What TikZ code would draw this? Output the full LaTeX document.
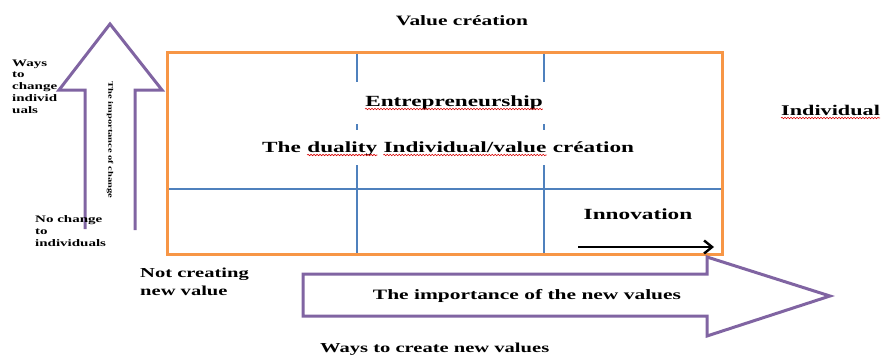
\documentclass[tikz,border=0pt]{standalone}
\usepackage{fontspec}
\setmainfont{Liberation Serif}
\newfontfamily\wideserif[FakeStretch=1.5]{Liberation Serif}
\usetikzlibrary{arrows.meta,decorations.pathmorphing}

\definecolor{boxorange}{HTML}{F79646}
\definecolor{arrowpurple}{HTML}{8064A2}
\definecolor{gridblue}{HTML}{4F81BD}

\tikzset{
  txt/.style={inner sep=0pt, text=black},
  bigtxt/.style={txt, font=\wideserif\bfseries\fontsize{15.5}{18}\selectfont},
  midtxt/.style={txt, font=\wideserif\bfseries\fontsize{14.3}{18}\selectfont},
  smalltxt/.style={txt, font=\wideserif\bfseries\fontsize{13.7}{18}\selectfont},
  tinytxt/.style={txt, align=left, font=\wideserif\bfseries\fontsize{10}{11.7}\selectfont},
  frame/.style={draw=boxorange, line width=3pt, line join=miter},
  gridline/.style={draw=gridblue, line width=1.1pt},
  bigarrow/.style={draw=arrowpurple, line width=3pt, line join=miter},
  spell/.style={draw=red!85!black, line width=0.6pt, decorate,
    decoration={snake, amplitude=0.7pt, segment length=3pt}},
}
% word gap of the wide bold face
\newcommand\wgap{6pt}

\begin{document}
\begin{tikzpicture}[x=1pt,y=-1pt]
  \useasboundingbox (0,0) rectangle (881,356);

  % inner grid of the matrix
  \draw[gridline] (167,189) -- (722,189);
  \foreach \gx in {357,544} {
    \draw[gridline] (\gx,52) -- (\gx,82);
    \draw[gridline] (\gx,124) -- (\gx,130);
    \draw[gridline] (\gx,165) -- (\gx,254);
  }

  % outer frame
  \draw[frame] (167,52) rectangle (722,254);

  % vertical block arrow: the importance of change
  \draw[bigarrow] (85,229) -- (85,90) -- (59,90) -- (110,24) -- (162,90)
        -- (135,90) -- (135,230);

  % horizontal block arrow: the importance of the new values
  \draw[bigarrow] (303,274) -- (707,274) -- (707,257) -- (830,296)
        -- (707,336) -- (707,316) -- (303,316) -- cycle;

  % texts inside the matrix
  \node[bigtxt, anchor=base] (entre) at (454,106) {Entrepreneurship};
  \node[bigtxt, anchor=base west] (d1) at (262,152) {The};
  \node[bigtxt, anchor=base west] (d2) at ([xshift=\wgap]d1.base east) {duality};
  \node[bigtxt, anchor=base west] (d3) at ([xshift=\wgap]d2.base east) {Individual/value};
  \node[bigtxt, anchor=base west] (d4) at ([xshift=\wgap]d3.base east) {création};
  \node[bigtxt, anchor=base] (innov) at (638,219) {Innovation};

  % innovation arrow
  \coordinate (innovstart) at (578,247);
  \coordinate (innovend) at (714,247);
  \draw[line width=2.7pt, -{Straight Barb[length=8pt,width=13pt,line width=2.4pt]}]
        (innovstart) -- (innovend);

  % axis titles
  \node[midtxt, anchor=base] (valuecr) at (462,25) {Value création};
  \node[txt, anchor=base west, font=\wideserif\bfseries\fontsize{14.8}{18}\selectfont]
        (indiv) at (781,115) {Individual};
  \node[midtxt, anchor=base] (newvalues) at (527,299) {The importance of the new values};
  \node[smalltxt, anchor=base west] (ways) at (320,352) {Ways to create new values};
  \node[smalltxt, anchor=base west, align=left] (notcr) at (140,295)
        {Not creating\\new value};

  % spell-check marks under words
  \foreach \w in {entre,d2,d3,indiv}
    \draw[spell] ([yshift=-3pt]\w.base west) -- ([yshift=-3pt]\w.base east);

  % left side labels
  \node[tinytxt, anchor=base west] (waysch) at (12,113)
        {Ways\\to\\change\\individ\\uals};
  \node[tinytxt, anchor=base west] (nochange) at (35,246)
        {No change\\to\\individuals};
  \node[txt, rotate=-90, font=\wideserif\bfseries\fontsize{7}{8}\selectfont]
        (impch) at (110,140) {The importance of change};
\end{tikzpicture}
\end{document}
